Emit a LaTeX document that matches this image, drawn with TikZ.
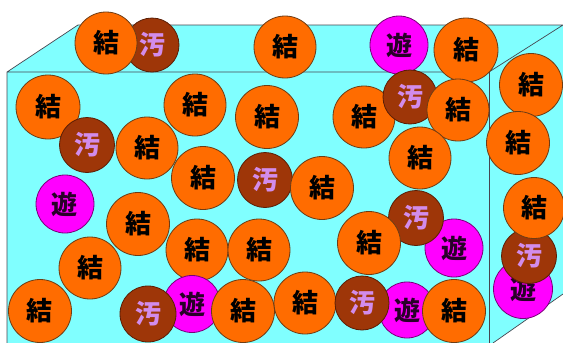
\documentclass[tikz,border=0pt]{standalone}
\usepackage{fontspec}
\newfontfamily\jpfont{Noto Sans CJK JP}
\definecolor{boxcyan}{RGB}{128,255,255}
\definecolor{orng}{RGB}{255,108,0}
\definecolor{orngedge}{RGB}{110,60,20}
\definecolor{brwn}{RGB}{158,54,8}
\definecolor{brwnedge}{RGB}{90,30,5}
\definecolor{brwntext}{RGB}{210,140,235}
\definecolor{mgnt}{RGB}{255,0,255}
\definecolor{mgntedge}{RGB}{120,0,120}
\definecolor{mgnttext}{RGB}{40,0,40}
\definecolor{edgegray}{RGB}{70,70,80}
\tikzset{
  ball/.style={circle, inner sep=0pt, line width=0.8pt,
    font=\jpfont\bfseries\fontsize{26}{26}\selectfont},
  ketsu/.style={ball, fill=orng, draw=orngedge, text=black, minimum size=#1},
  osen/.style={ball, fill=brwn, draw=brwnedge, text=brwntext, minimum size=#1},
  yu/.style={ball, fill=mgnt, draw=mgntedge, text=mgnttext, minimum size=#1},
  boxedge/.style={draw=edgegray, line width=0.7pt}
}
\begin{document}
\begin{tikzpicture}[x=1pt,y=-1pt]
\useasboundingbox (0,0) rectangle (563,343);
% box
\fill[boxcyan] (7,343) -- (7,72) -- (78,25) -- (563,25) -- (563,294) -- (493,343) -- cycle;
\coordinate (fbl) at (7,343);
\coordinate (ftl) at (7,72);
\coordinate (btl) at (78,25);
\coordinate (btr) at (563,25);
\coordinate (ftr) at (489,72);
\coordinate (fbr) at (489,343);
\coordinate (sb1) at (493,343);
\coordinate (sb2) at (563,294);
\draw[boxedge] (fbl) -- (ftl) -- (btl) -- (btr) -- (ftr) -- (ftl);
\draw[boxedge] (ftr) -- (fbr);
\draw[boxedge] (sb1) -- (sb2);
% balls
\node[osen=54] (o1) at (152,45) {汚};
\node[ketsu=62] (k1) at (106,43) {結};
\node[ketsu=62] (k2) at (285,47) {結};
\node[yu=58] (y1) at (399,45) {遊};
\node[ketsu=64] (k3) at (466,50) {結};
\node[ketsu=63] (k4) at (531,85) {結};
\node[ketsu=63] (k5) at (518,143) {結};
\node[ketsu=64] (k6) at (48,107) {結};
\node[osen=55] (o2) at (87,145) {汚};
\node[ketsu=62] (k7) at (147,148) {結};
\node[ketsu=62] (k8) at (195,105) {結};
\node[ketsu=63] (k9) at (267,117) {結};
\node[ketsu=62] (k10) at (364,117) {結};
\node[osen=54] (o3) at (410,97) {汚};
\node[ketsu=62] (k11) at (458,110) {結};
\node[ketsu=62] (k12) at (420,158) {結};
\node[ketsu=63] (k13) at (203,178) {結};
\node[osen=55] (o4) at (265,180) {汚};
\node[ketsu=63] (k14) at (322,188) {結};
\node[yu=58] (y2) at (65,204) {遊};
\node[ketsu=63] (k15) at (138,224) {結};
\node[ketsu=62] (k16) at (197,250) {結};
\node[ketsu=62] (k17) at (259,250) {結};
\node[yu=58] (y3) at (454,248) {遊};
\node[osen=55] (o5) at (416,218) {汚};
\node[ketsu=63] (k18) at (369,243) {結};
\node[yu=59] (y4) at (523,289) {遊};
\node[osen=55] (o6) at (529,256) {汚};
\node[ketsu=61] (k19) at (534,208) {結};
\node[ketsu=62] (k20) at (90,268) {結};
\node[ketsu=63] (k21) at (40,311) {結};
\node[yu=57] (y5) at (192,304) {遊};
\node[osen=56] (o7) at (148,314) {汚};
\node[ketsu=63] (k22) at (243,311) {結};
\node[ketsu=62] (k23) at (305,303) {結};
\node[yu=56] (y6) at (407,310) {遊};
\node[osen=54] (o8) at (362,303) {汚};
\node[ketsu=63] (k24) at (454,311) {結};
\end{tikzpicture}
\end{document}
